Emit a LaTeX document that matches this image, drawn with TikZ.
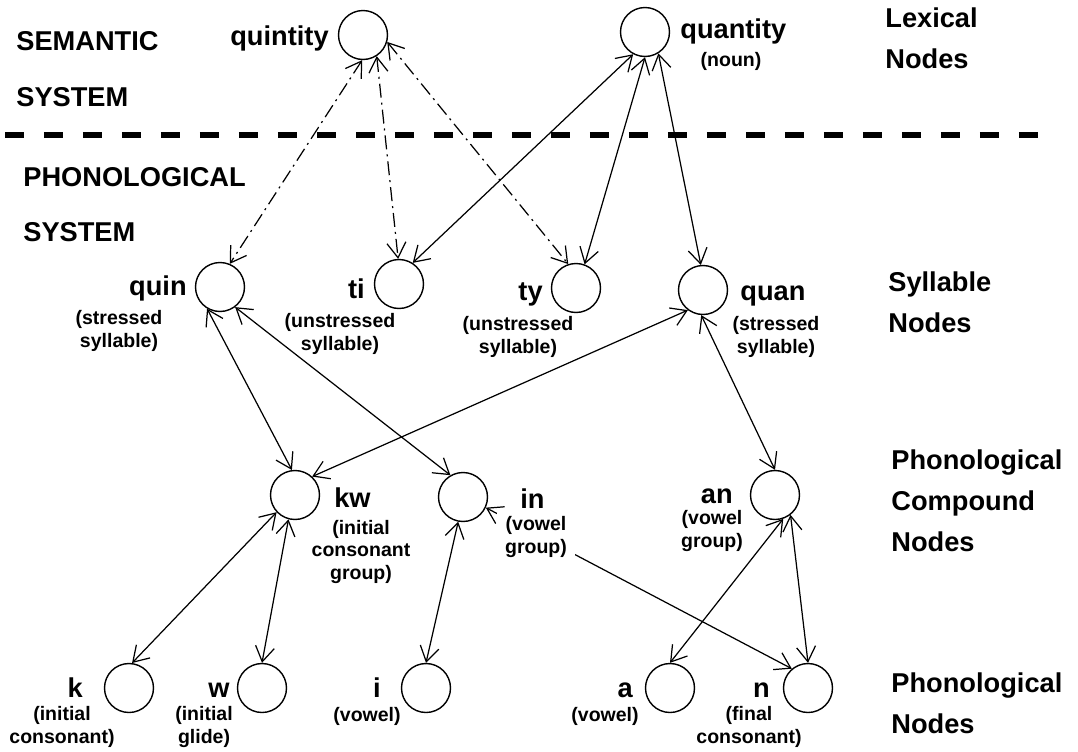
\documentclass[tikz,border=0pt]{standalone}
\usepackage{fontspec}
\setmainfont{Liberation Sans}
\usetikzlibrary{arrows.meta, positioning}

\begin{document}
\begin{tikzpicture}[x=0.02cm, y=-0.02cm,
    ring/.style={circle, draw, line width=0.8pt, minimum size=0.98cm, inner sep=0pt},
    word/.style={font=\bfseries\fontsize{15.5}{18}\selectfont, inner sep=0pt},
    gloss/.style={font=\bfseries\fontsize{11.1}{12.6}\selectfont, inner sep=0pt, align=center},
    tier/.style={font=\bfseries\fontsize{15.5}{23.3}\selectfont, inner sep=0pt, align=left},
    link/.style={line width=0.7pt, {Straight Barb[length=0.3cm,width=0.38cm]}-{Straight Barb[length=0.3cm,width=0.38cm]}},
    sense/.style={link, dash pattern=on 0.28cm off 0.1cm on 0.04cm off 0.1cm},
    divider/.style={line width=0.13cm, dash pattern=on 0.38cm off 0.4cm}]
    \useasboundingbox (0,0) rectangle (1078,751);

    % system split
    \node[word, anchor=base west] (sem1) at (16,50) {SEMANTIC};
    \node[word, anchor=base west] (sem2) at (16,106) {SYSTEM};
    \node[word, anchor=base west] (pho1) at (23,186) {PHONOLOGICAL};
    \node[word, anchor=base west] (pho2) at (23,241) {SYSTEM};
    \coordinate (cutL) at (5,135);
    \coordinate (cutR) at (1053,135);
    \draw[divider] (cutL) -- (cutR);

    % level names (base = last line)
    \node[tier, anchor=base west] (lexical) at (885,68) {Lexical\\Nodes};
    \node[tier, anchor=base west] (syllable) at (888,332) {Syllable\\Nodes};
    \node[tier, anchor=base west] (compound) at (891,551) {Phonological\\Compound\\Nodes};
    \node[tier, anchor=base west] (phoneme) at (891,733) {Phonological\\Nodes};

    % units
    \node[ring] (quintity) at (363,35) {};
    \node[ring] (quantity) at (645,32) {};
    \node[ring] (quin) at (220,287) {};
    \node[ring] (ti) at (399,284) {};
    \node[ring] (ty) at (576,288) {};
    \node[ring] (quan) at (703,290) {};
    \node[ring] (kw) at (295,495) {};
    \node[ring] (in) at (463,497) {};
    \node[ring] (an) at (775,495) {};
    \node[ring] (k) at (129,688) {};
    \node[ring] (w) at (262,688) {};
    \node[ring] (i) at (426,688) {};
    \node[ring] (a) at (670,688) {};
    \node[ring] (n) at (808,688) {};

    % connections
    \draw[sense] (quintity.-92) -- (quin.67);
    \draw[sense] (quintity.-57) -- (ti.92);
    \draw[sense] (quintity.-16) -- (ty.108);
    \draw[link] (quantity.-118) -- (ti.57);
    \draw[link] (quantity.-90) -- (ty.70);
    \draw[link] (quantity.-58) -- (quan.95);
    \draw[link] (quin.-121) -- (kw.97);
    \draw[link] (quin.-53) -- (in.120);
    \draw[link] (kw.47) -- (quan.-127);
    \draw[link] (quan.-94) -- (an.90);
    \draw[link] (kw.-137) -- (k.83);
    \draw[link] (kw.-105) -- (w.90);
    \draw[link] (in.-101) -- (i.90);
    \draw[link] (an.-71) -- (a.90);
    \draw[link] (an.-52) -- (n.90);
    \draw[link] (in.-25) -- (n.130);

    % labels (gloss base = last line)
    \node[word, anchor=base east] (quintityL) at (329,45) {quintity};
    \node[word, anchor=base west] (quantityL) at (680,38) {quantity};
    \node[gloss, anchor=base] (quantityG) at (731,66) {(noun)};
    \node[word, anchor=base east] (quinL) at (187,295) {quin};
    \node[gloss, anchor=base] (quinG) at (119,347) {(stressed\\syllable)};
    \node[word, anchor=base east] (tiL) at (365,298) {ti};
    \node[gloss, anchor=base] (tiG) at (340,350) {(unstressed\\syllable)};
    \node[word, anchor=base east] (tyL) at (543,300) {ty};
    \node[gloss, anchor=base] (tyG) at (518,353) {(unstressed\\syllable)};
    \node[word, anchor=base west] (quanL) at (740,300) {quan};
    \node[gloss, anchor=base] (quanG) at (776,353) {(stressed\\syllable)};
    \node[word, anchor=base west] (kwL) at (334,507) {kw};
    \node[gloss, anchor=base] (kwG) at (361,579) {(initial\\consonant\\group)};
    \node[word, anchor=base west] (inL) at (520,508) {in};
    \node[gloss, anchor=base, fill=white, inner xsep=0.16cm, inner ysep=0.12cm] (inG) at (536,553) {(vowel\\group)};
    \node[word, anchor=base east] (anL) at (733,503) {an};
    \node[gloss, anchor=base] (anG) at (712,547) {(vowel\\group)};
    \node[word, anchor=base east] (kL) at (83,697) {k};
    \node[gloss, anchor=base] (kG) at (62,743) {(initial\\consonant)};
    \node[word, anchor=base east] (wL) at (230,697) {w};
    \node[gloss, anchor=base] (wG) at (204,743) {(initial\\glide)};
    \node[word, anchor=base east] (iL) at (381,697) {i};
    \node[gloss, anchor=base] (iG) at (367,721) {(vowel)};
    \node[word, anchor=base east] (aL) at (633,697) {a};
    \node[gloss, anchor=base] (aG) at (605,721) {(vowel)};
    \node[word, anchor=base east] (nL) at (770,697) {n};
    \node[gloss, anchor=base] (nG) at (749,743) {(final\\consonant)};
\end{tikzpicture}
\end{document}
